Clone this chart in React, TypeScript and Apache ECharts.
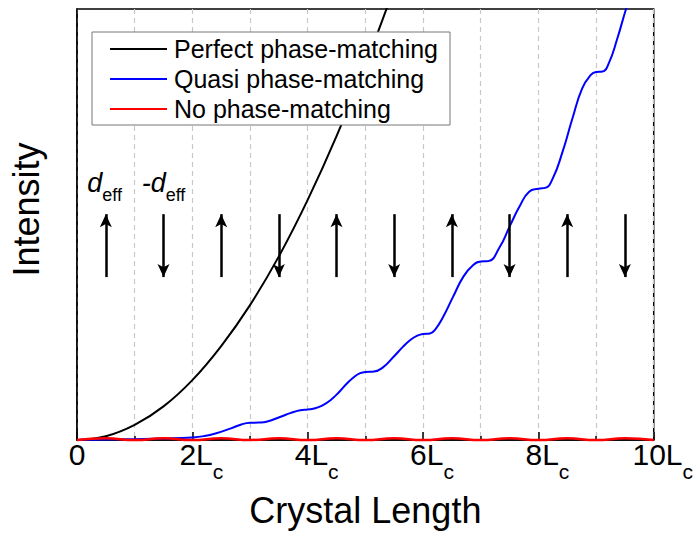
import React, { useEffect, useRef } from 'react';
import * as echarts from 'echarts';

// Perfect phase-matching (black)
const perfectX = [0, 0.5, 1, 1.5, 2, 2.5, 3, 3.5, 4, 4.5, 5, 5.5, 6];
const perfectY = [0, 0.87, 3.5, 7.8, 13.9, 21.8, 31.3, 42.6, 55.7, 70.5, 87, 105, 125];

// Quasi phase-matching (blue)
const qpmX = [0, 0.5, 1, 1.5, 2, 2.2, 2.4, 2.67, 2.85, 3, 3.15, 3.3, 3.53, 3.71, 3.87, 4, 4.11, 4.25, 4.4, 4.55, 4.68, 4.82, 4.91, 5, 5.15, 5.3, 5.49, 5.65, 5.78, 5.9, 6, 6.12, 6.22, 6.35, 6.52, 6.7, 6.87, 7, 7.13, 7.33, 7.5, 7.67, 7.84, 8, 8.12, 8.25, 8.42, 8.59, 8.76, 8.91, 9, 9.11, 9.22, 9.37, 9.52, 9.6];
const qpmY = [0, 0.1, 0.2, 0.35, 0.6, 0.9, 1.5, 2.7, 3.6, 4.0, 4.05, 4.3, 5.4, 6.3, 6.9, 7.1, 7.3, 8.0, 9.3, 11.2, 13.1, 14.8, 15.5, 15.8, 15.9, 16.8, 19.3, 21.6, 23.2, 24.2, 24.6, 24.7, 25.8, 28.6, 33.2, 37.9, 40.6, 41.4, 41.5, 44.8, 49.5, 54.1, 57.6, 58.3, 58.5, 60.7, 66.9, 74.6, 81.6, 84.7, 85.4, 85.5, 87.4, 93.2, 100, 103];

// No phase-matching (red)
const noPmX = [0, 0.5, 1, 1.5, 2, 2.5, 3, 3.5, 4, 4.5, 5, 5.5, 6, 6.5, 7, 7.5, 8, 8.5, 9, 9.5, 10];
const noPmY = [0, 0.4, 0, 0.4, 0, 0.4, 0, 0.4, 0, 0.4, 0, 0.4, 0, 0.4, 0, 0.4, 0, 0.4, 0, 0.4, 0];

// Domain arrows (d_eff sign)
const arrowX = [0.5, 1.5, 2.5, 3.5, 4.5, 5.5, 6.5, 7.5, 8.5, 9.5];
const arrowUp = [true, false, true, false, true, false, true, false, true, false];
const arrowLow = 37.8;
const arrowHigh = 52.4;

const seriesNames = ['Perfect phase-matching', 'Quasi phase-matching', 'No phase-matching'];
const seriesColors = ['#000000', '#0000ff', '#ff0000'];

const FONT = 'Liberation Sans, Arial, sans-serif';

const zip = (xs: number[], ys: number[]) => xs.map((x, i) => [x, ys[i]]);

export default function App() {
  const ref = useRef<HTMLDivElement>(null);
  useEffect(() => {
    const chart = echarts.init(ref.current!, null, { renderer: 'svg' });
    chart.setOption({
      animation: false,
      textStyle: { fontFamily: FONT },
      grid: { left: 75, right: 41, top: 9, bottom: 93, show: true, borderColor: '#000', borderWidth: 1.5, backgroundColor: 'transparent' },
      legend: {
        data: seriesNames,
        orient: 'vertical',
        left: 92,
        top: 32,
        padding: [4, 12, 3, 17],
        itemGap: 4,
        itemWidth: 57,
        itemHeight: 14,
        backgroundColor: '#fff',
        borderColor: '#777',
        borderWidth: 1,
        borderRadius: 0,
        selectedMode: false,
        itemStyle: { opacity: 0 },
        textStyle: { fontSize: 25, color: '#000', fontFamily: FONT, lineHeight: 26, padding: [0, 0, 0, 2] },
      },
      xAxis: {
        type: 'value',
        min: 0,
        max: 10,
        interval: 2,
        name: 'Crystal Length',
        nameLocation: 'middle',
        nameGap: 52,
        nameTextStyle: { fontSize: 36, color: '#000', fontFamily: FONT },
        axisLine: { lineStyle: { color: '#000', width: 1.5 } },
        axisTick: { inside: true, length: 8, lineStyle: { color: '#000', width: 1.5 } },
        minorTick: { show: true, splitNumber: 2, length: 4, lineStyle: { color: '#000', width: 1.5 } },
        splitLine: { show: true, lineStyle: { color: '#c8c8c8', type: [5, 4], width: 1.2 } },
        minorSplitLine: { show: true, lineStyle: { color: '#c8c8c8', type: [5, 4], width: 1.2 } },
        axisLabel: {
          margin: 12,
          verticalAlign: 'top',
          color: '#000',
          formatter: (v: number) => (v === 0 ? '{z|0}' : `{a|${v}L}{b|c}`),
          rich: {
            z: { fontSize: 30, lineHeight: 30, padding: [7, 0, 13, 0], verticalAlign: 'bottom', fontFamily: FONT, color: '#000' },
            a: { fontSize: 30, lineHeight: 30, padding: [7, 0, 13, 18], verticalAlign: 'bottom', fontFamily: FONT, color: '#000' },
            b: { fontSize: 21, lineHeight: 21, verticalAlign: 'bottom', fontFamily: FONT, color: '#000' },
          },
        },
      },
      yAxis: {
        type: 'value',
        min: 0,
        max: 100,
        name: 'Intensity',
        nameLocation: 'middle',
        nameGap: 33,
        nameTextStyle: { fontSize: 36, color: '#000', fontFamily: FONT, padding: [0, 0, 0, 30] },
        axisLine: { show: true, lineStyle: { color: '#000', width: 1.5 } },
        axisTick: { show: false },
        axisLabel: { show: false },
        splitLine: { show: false },
      },
      series: [
        {
          name: seriesNames[0],
          type: 'line',
          data: zip(perfectX, perfectY),
          symbol: 'none',
          smooth: 0.4,
          lineStyle: { color: seriesColors[0], width: 2 },
          itemStyle: { color: seriesColors[0] },
        },
        {
          name: seriesNames[1],
          type: 'line',
          data: zip(qpmX, qpmY),
          symbol: 'none',
          smooth: 0.5,
          lineStyle: { color: seriesColors[1], width: 2 },
          itemStyle: { color: seriesColors[1] },
        },
        {
          name: seriesNames[2],
          type: 'line',
          data: zip(noPmX, noPmY),
          symbol: 'none',
          smooth: 0.5,
          clip: false,
          lineStyle: { color: seriesColors[2], width: 2.5 },
          itemStyle: { color: seriesColors[2] },
          markLine: {
            silent: true,
            symbol: ['none', 'arrow'],
            symbolSize: [9, 13],
            label: { show: false },
            lineStyle: { color: '#000', width: 2.5, type: 'solid' },
            emphasis: { disabled: true },
            data: arrowX.map((x, i) =>
              arrowUp[i]
                ? [{ coord: [x, arrowLow] }, { coord: [x, arrowHigh] }]
                : [{ coord: [x, arrowHigh] }, { coord: [x, arrowLow] }]
            ),
          },
          markPoint: {
            silent: true,
            symbol: 'circle',
            symbolSize: 1,
            itemStyle: { color: 'rgba(0,0,0,0)' },
            label: {
              show: true,
              position: 'inside',
              rich: {
                d: { fontSize: 27, fontStyle: 'italic', fontFamily: FONT, color: '#000', lineHeight: 27, padding: [0, 0, 8, 0], verticalAlign: 'bottom' },
                s: { fontSize: 18, fontFamily: FONT, color: '#000', lineHeight: 18, verticalAlign: 'bottom' },
              },
            },
            data: [
              { coord: [0.48, 57.8], label: { formatter: '{d|d}{s|eff}' } },
              { coord: [1.5, 57.8], label: { formatter: '{d|-d}{s|eff}' } },
            ],
          },
        },
      ],
    });
    return () => chart.dispose();
  }, []);
  return <div ref={ref} style={{ position: 'absolute', left: 0, top: 0, width: 696, height: 533 }} />;
}
